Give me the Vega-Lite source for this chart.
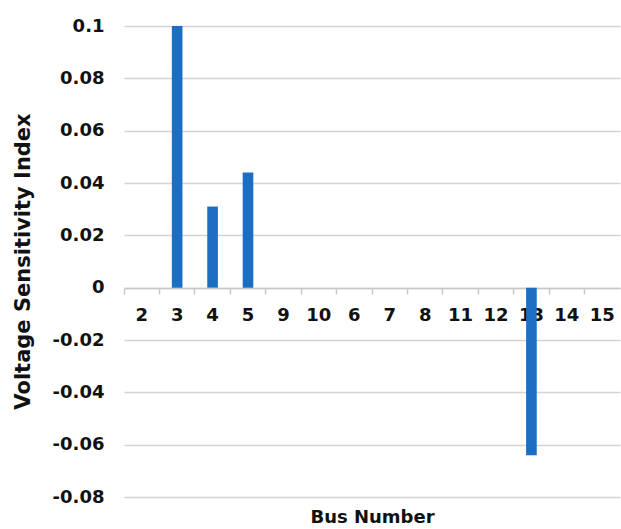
{
  "$schema": "https://vega.github.io/schema/vega-lite/v6.json",
  "width": 496,
  "height": 471,
  "autosize": "none",
  "padding": {"left": 124, "top": 26, "right": 1, "bottom": 32},
  "background": "white",
  "config": {"view": {"stroke": null}, "font": "DejaVu Sans"},
  "data": {
    "values": [
      {"bus": "2", "vsi": 0},
      {"bus": "3", "vsi": 0.1},
      {"bus": "4", "vsi": 0.031},
      {"bus": "5", "vsi": 0.044},
      {"bus": "9", "vsi": 0},
      {"bus": "10", "vsi": 0},
      {"bus": "6", "vsi": 0},
      {"bus": "7", "vsi": 0},
      {"bus": "8", "vsi": 0},
      {"bus": "11", "vsi": 0},
      {"bus": "12", "vsi": 0},
      {"bus": "13", "vsi": -0.064},
      {"bus": "14", "vsi": 0},
      {"bus": "15", "vsi": 0}
    ]
  },
  "layer": [
    {
      "mark": {"type": "bar", "color": "#1b6ec2", "width": {"band": 0.3}},
      "encoding": {
        "x": {
          "field": "bus",
          "type": "nominal",
          "sort": ["2","3","4","5","9","10","6","7","8","11","12","13","14","15"],
          "scale": {"paddingInner": 0, "paddingOuter": 0},
          "axis": {
            "orient": "bottom",
            "offset": -209,
            "domain": false,
            "ticks": false,
            "grid": false,
            "labelAngle": 0,
            "labelFont": "DejaVu Sans",
            "labelFontWeight": "bold",
            "labelFontSize": 18,
            "labelColor": "#111111",
            "labelPadding": 18,
            "title": "Bus Number",
            "titleFont": "DejaVu Sans",
            "titleFontWeight": "bold",
            "titleFontSize": 18,
            "titleColor": "#111111",
            "titleY": 234,
            "titleBaseline": "alphabetic"
          }
        },
        "y": {
          "field": "vsi",
          "type": "quantitative",
          "scale": {"domain": [-0.08, 0.1], "nice": false, "zero": false},
          "axis": {
            "values": [-0.08, -0.06, -0.04, -0.02, 0, 0.02, 0.04, 0.06, 0.08, 0.1],
            "labelExpr": "'' + datum.value",
            "domain": false,
            "ticks": false,
            "grid": true,
            "gridColor": "#d4d4d4",
            "gridWidth": 1.5,
            "labelFont": "DejaVu Sans",
            "labelFontWeight": "bold",
            "labelFontSize": 18,
            "labelColor": "#111111",
            "labelPadding": 20,
            "title": "Voltage Sensitivity Index",
            "titleFont": "DejaVu Sans",
            "titleFontWeight": "bold",
            "titleFontSize": 21,
            "titleColor": "#111111",
            "titleX": -91,
            "titleY": 235
          }
        }
      }
    },
    {
      "mark": {"type": "bar", "opacity": 0, "width": {"band": 0.3}},
      "encoding": {
        "x": {
          "field": "bus",
          "type": "nominal",
          "sort": ["2","3","4","5","9","10","6","7","8","11","12","13","14","15"],
          "axis": {
            "orient": "bottom",
            "offset": -209,
            "bandPosition": 0,
            "domain": true,
            "domainColor": "#c8c8c8",
            "domainWidth": 1.5,
            "ticks": true,
            "tickColor": "#c8c8c8",
            "tickWidth": 1.5,
            "tickSize": 6,
            "labels": false,
            "grid": false,
            "title": null
          }
        },
        "y": {"field": "vsi", "type": "quantitative"}
      }
    }
  ],
  "resolve": {"axis": {"x": "independent", "y": "shared"}}
}
